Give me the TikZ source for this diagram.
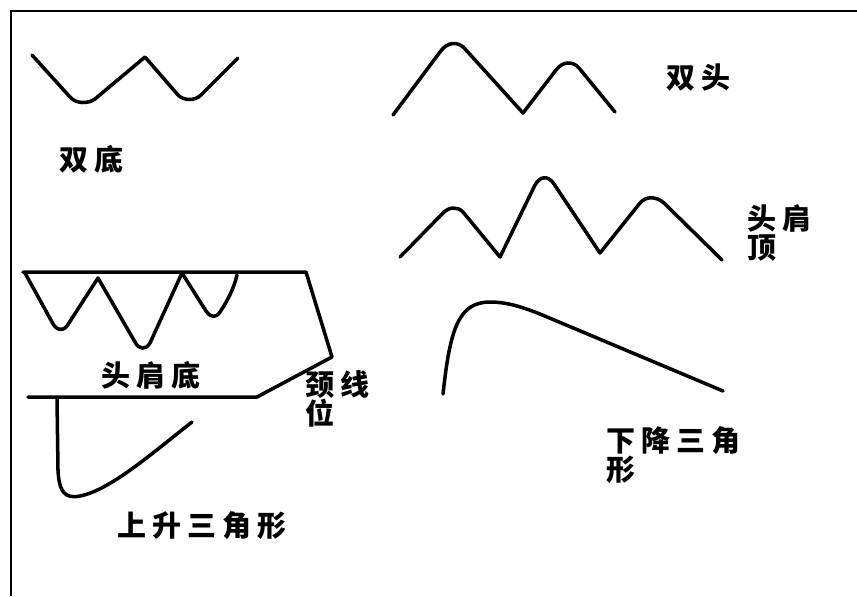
\documentclass[tikz,border=0pt]{standalone}
\usepackage{fontspec}
\newfontfamily\cjk[LetterSpace=21]{Noto Sans CJK SC}
\usetikzlibrary{positioning}

\begin{document}
\begin{tikzpicture}[
    x=0.02cm, y=-0.02cm,
    curve/.style={line width=2pt, line join=round, line cap=round},
    frame/.style={line width=0.8pt},
    lbl/.style={font=\cjk\bfseries\fontsize{16.5pt}{16.5pt}\selectfont, anchor=north west, inner sep=0pt, align=left}
  ]
    \useasboundingbox (0,0) rectangle (857,596);
    % frame (top and left edge only)
    \draw[frame] (857,11) -- (11,11) -- (11,596);

    % double bottom
    \draw[curve] (32,55) -- (70,97) .. controls (76,104) and (88,104) .. (95,99) -- (145,57)
      -- (178,95) .. controls (184,101) and (195,101) .. (201,95) -- (238,58);
    \node[lbl] (dblbottom) at (59,145) {双底};

    % double top
    \draw[curve] (393,115) -- (440,52) .. controls (447,42) and (458,40) .. (466,50) -- (523,113)
      -- (556,70) .. controls (562,62) and (572,60) .. (579,68) -- (615,112);
    \node[lbl] (dbltop) at (666,63) {双头};

    % head and shoulders top
    \draw[curve] (400,257) -- (443,213) .. controls (449,207) and (457,206) .. (463,212) -- (500,257)
      -- (535,185) .. controls (540,176) and (548,175) .. (554,184) -- (600,253)
      -- (640,203) .. controls (646,196) and (656,196) .. (664,203) -- (722,260);
    \node[lbl] (hstop) at (747,204) {头肩\\顶};

    % head and shoulders bottom with neckline
    \draw[curve] (23,272) -- (306,272) -- (332,357) -- (257,397) -- (28,397);
    \draw[curve] (25,273) -- (52,322) .. controls (56,330) and (62,332) .. (67,326) -- (98,278)
      -- (135,342) .. controls (139,350) and (146,350) .. (150,343) -- (182,273)
      -- (206,311) .. controls (211,318) and (216,318) .. (220,312) .. controls (228,300) and (234,288) .. (237,275);
    \node[lbl] (hsbottom) at (101,361) {头肩底};
    \node[lbl] (neckline) at (305,370) {颈线\\位};

    % ascending triangle
    \draw[curve] (57,398) -- (58,470) .. controls (59,492) and (65,499) .. (80,496)
      .. controls (110,490) and (150,455) .. (192,422);
    \node[lbl] (ascend) at (117,511) {上升三角形};

    % descending triangle
    \draw[curve] (443,394) .. controls (450,330) and (458,302) .. (490,302)
      .. controls (505,302) and (520,306) .. (540,314) -- (723,391);
    \node[lbl] (descend) at (606,426) {下降三角\\形};
  \end{tikzpicture}
\end{document}
